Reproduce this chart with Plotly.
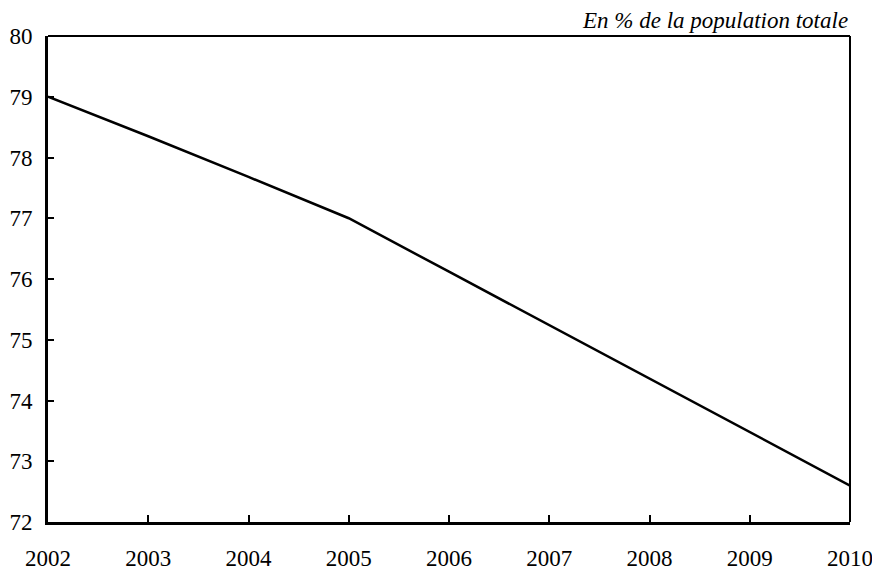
import plotly.graph_objects as go

years = [2002, 2003, 2004, 2005, 2006, 2007, 2008, 2009, 2010]
share = [79.0, 78.35, 77.68, 77.0, 76.12, 75.24, 74.36, 73.48, 72.6]
y_ticks = [72, 73, 74, 75, 76, 77, 78, 79, 80]

fig = go.Figure()
fig.add_trace(go.Scatter(x=years, y=share, mode='lines',
                         line=dict(color='black', width=2.5), showlegend=False))

font = dict(family='Liberation Serif', size=23, color='black')

# page body has an 8px margin, so the figure is a bit smaller than the window
fig.update_layout(
    width=872, height=562,
    margin=dict(l=40, r=30, t=28, b=48, autoexpand=False),
    paper_bgcolor='white', plot_bgcolor='white',
    font=font,
)
fig.update_xaxes(range=[2002, 2010], tickvals=years, ticks='inside', ticklen=7,
                 tickwidth=2, tickcolor='black', showline=True, linewidth=3,
                 linecolor='black', showgrid=False, zeroline=False,
                 automargin=False, ticklabelstandoff=13, tickfont=font)
fig.update_yaxes(range=[72, 80], tickvals=y_ticks, ticks='inside', ticklen=6,
                 tickwidth=2, tickcolor='black', showline=True, linewidth=3,
                 linecolor='black', showgrid=False, zeroline=False,
                 automargin=False, ticklabelstandoff=8, tickfont=font)

# top and right border (thinner than the axes)
fig.add_shape(type='line', xref='paper', yref='paper', x0=0, x1=1, y0=1, y1=1,
              line=dict(color='black', width=2))
fig.add_shape(type='line', xref='paper', yref='paper', x0=1, x1=1, y0=0, y1=1,
              line=dict(color='black', width=2))

fig.add_annotation(text='<i>En % de la population totale</i>', xref='paper', yref='paper',
                   x=1, y=1, xanchor='right', yanchor='bottom', yshift=1, showarrow=False,
                   font=font)

fig.write_html('out.html')
